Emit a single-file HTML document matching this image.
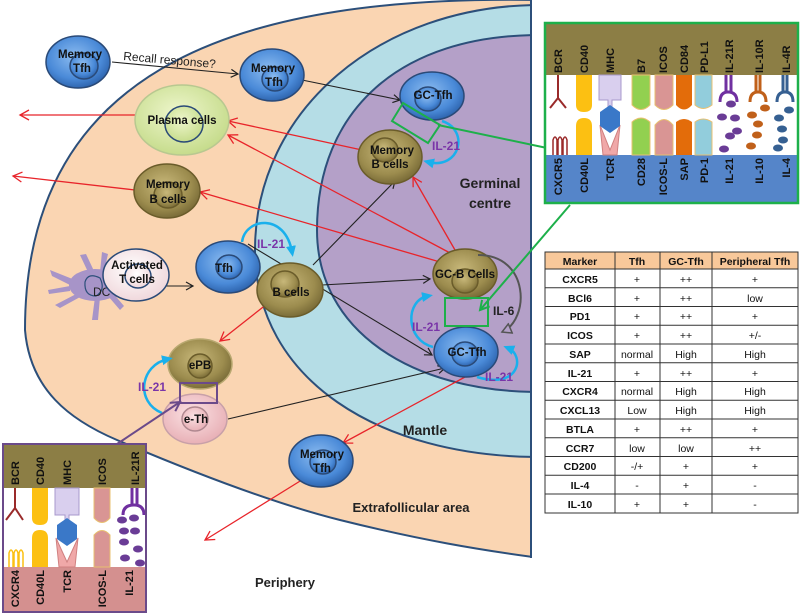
<!DOCTYPE html>
<html><head><meta charset="utf-8"><style>
html,body{margin:0;padding:0;background:#fff;}
svg{display:block;font-family:"Liberation Sans",sans-serif;}
</style></head><body>
<svg width="800" height="615" viewBox="0 0 800 615" xmlns="http://www.w3.org/2000/svg">
<defs>
<radialGradient id="gB" cx="45%" cy="40%" r="60%"><stop offset="0" stop-color="#8cbcf0"/><stop offset="0.7" stop-color="#4a8ad8"/><stop offset="1" stop-color="#2f66b0"/></radialGradient>
<radialGradient id="gO" cx="45%" cy="40%" r="60%"><stop offset="0" stop-color="#c8b87a"/><stop offset="0.7" stop-color="#9c8c4e"/><stop offset="1" stop-color="#7a6c38"/></radialGradient>
<radialGradient id="gG" cx="45%" cy="40%" r="60%"><stop offset="0" stop-color="#eef6cc"/><stop offset="1" stop-color="#c6dc8c"/></radialGradient>
<radialGradient id="gP" cx="45%" cy="40%" r="60%"><stop offset="0" stop-color="#fbe2e4"/><stop offset="1" stop-color="#e8b0b6"/></radialGradient>
<radialGradient id="gW" cx="45%" cy="40%" r="60%"><stop offset="0" stop-color="#ffffff"/><stop offset="1" stop-color="#f0d8dc"/></radialGradient>
<marker id="aK" markerWidth="10" markerHeight="10" refX="8" refY="5" orient="auto" markerUnits="userSpaceOnUse"><path d="M1,1 L8,5 L1,9" fill="none" stroke="#222" stroke-width="1.2"/></marker>
<marker id="aR" markerWidth="12" markerHeight="12" refX="10" refY="6" orient="auto" markerUnits="userSpaceOnUse"><path d="M1,1 L10,6 L1,11" fill="none" stroke="#e8242a" stroke-width="1.3"/></marker>
<marker id="aC" markerWidth="12" markerHeight="12" refX="6" refY="6" orient="auto" markerUnits="userSpaceOnUse"><path d="M0,1 L11,6 L0,11 Z" fill="#1ab0ec"/></marker>
<marker id="aCo" markerWidth="12" markerHeight="12" refX="6" refY="6" orient="auto" markerUnits="userSpaceOnUse"><path d="M1,1 L10,6 L1,11 Z" fill="#b4a0c8" stroke="#1ab0ec" stroke-width="1.5"/></marker>
<marker id="aGr" markerWidth="12" markerHeight="12" refX="10" refY="6" orient="auto" markerUnits="userSpaceOnUse"><path d="M1,1 L10,6 L1,11 Z" fill="#b4a0c8" stroke="#555" stroke-width="1.5"/></marker>
<marker id="aGn" markerWidth="12" markerHeight="12" refX="10" refY="6" orient="auto" markerUnits="userSpaceOnUse"><path d="M1,1 L10,6 L1,11" fill="none" stroke="#1db04a" stroke-width="2"/></marker>
<marker id="aPu" markerWidth="12" markerHeight="12" refX="10" refY="6" orient="auto" markerUnits="userSpaceOnUse"><path d="M1,1 L10,6 L1,11" fill="none" stroke="#6b4a8a" stroke-width="2"/></marker>
<clipPath id="cl"><rect x="0" y="0" width="531" height="615"/></clipPath>
</defs>

<!-- regions -->
<g clip-path="url(#cl)">
<path d="M540,0 C250,-5 25,60 25,330 C30,390 70,420 117,440 S260,500 340,520 S480,550 540,558 Z" fill="#fad5b2" stroke="#2c4f7a" stroke-width="2"/>
<path d="M540,5 C380,5 255,110 255,250 C255,380 380,457 540,457 Z" fill="#b5dde6" stroke="#2c4f7a" stroke-width="2"/>
<path d="M540,35 C400,35 317,110 317,230 C317,330 410,392 540,392 Z" fill="#b4a0c8" stroke="#2c4f7a" stroke-width="2"/>
</g>
<line x1="531" y1="0" x2="531" y2="558" stroke="#2c4f7a" stroke-width="2"/>

<g font-weight="bold" fill="#222">
<text x="490" y="188" font-size="14" text-anchor="middle">Germinal</text>
<text x="490" y="208" font-size="14" text-anchor="middle">centre</text>
<text x="425" y="435" font-size="14" text-anchor="middle">Mantle</text>
<text x="411" y="512" font-size="13" text-anchor="middle">Extrafollicular area</text>
<text x="285" y="587" font-size="13" text-anchor="middle">Periphery</text>
</g>

<!-- DC -->
<g fill="#a794c8" stroke="none">
<ellipse cx="95" cy="285" rx="26" ry="16"/>
<path d="M75,280 L50,270 L52,276 L72,286 Z M80,292 L55,305 L60,308 L82,296 Z M95,297 L92,320 L98,320 L100,297 Z M108,296 L120,310 L124,306 L112,292 Z M88,272 L80,255 L86,254 L94,271 Z M100,272 L102,252 L108,254 L104,272 Z M70,286 L48,290 L49,294 L70,291 Z"/>
</g>
<path d="M85,282 Q88,272 100,278 Q106,290 96,296 Q84,296 85,282 Z" fill="none" stroke="#2c4f7a" stroke-width="1.2"/>
<text x="93" y="296" font-size="12" fill="#222">DC</text>

<!-- connectors red -->
<g stroke="#e8242a" stroke-width="1.3" fill="none" marker-end="url(#aR)">
<line x1="135" y1="115" x2="20" y2="115"/>
<line x1="135" y1="190" x2="13" y2="176"/>
<line x1="362" y1="150" x2="228" y2="121"/>
<line x1="452" y1="254" x2="228" y2="135"/>
<line x1="440" y1="262" x2="200" y2="192"/>
<line x1="455" y1="250" x2="413" y2="177"/>
<line x1="272" y1="300" x2="220" y2="341"/>
<line x1="465" y1="377" x2="343" y2="443"/>
<line x1="305" y1="478" x2="205" y2="540"/>
</g>
<!-- black -->
<g stroke="#222" stroke-width="1.1" fill="none" marker-end="url(#aK)">
<line x1="112" y1="62" x2="238" y2="74"/>
<line x1="302" y1="80" x2="400" y2="100"/>
<line x1="165" y1="286" x2="193" y2="286"/>
<line x1="248" y1="244" x2="432" y2="355"/>
<line x1="313" y1="265" x2="395" y2="181"/>
<line x1="322" y1="285" x2="430" y2="279"/>
<line x1="228" y1="419" x2="445" y2="368"/>
</g>
<text x="123" y="60" font-size="12" fill="#222" transform="rotate(5 123 60)">Recall response?</text>

<!-- cells -->
<g stroke="#2a4a78" stroke-width="1.5">
<ellipse cx="78" cy="62" rx="32" ry="26" fill="url(#gB)"/><ellipse cx="84" cy="66" rx="14" ry="13" fill="url(#gB)"/>
<ellipse cx="272" cy="75" rx="32" ry="26" fill="url(#gB)"/><ellipse cx="275" cy="79" rx="13" ry="12" fill="url(#gB)"/>
<ellipse cx="182" cy="120" rx="47" ry="35" fill="url(#gG)" stroke="#b8c890"/><ellipse cx="184" cy="124" rx="19" ry="18" fill="url(#gG)"/>
<ellipse cx="167" cy="191" rx="33" ry="27" fill="url(#gO)" stroke="#6a5c2a"/><ellipse cx="168" cy="195" rx="14" ry="13" fill="url(#gO)" stroke="#6a5c2a"/>
<ellipse cx="136" cy="275" rx="33" ry="26" fill="url(#gW)"/><ellipse cx="138" cy="276" rx="13" ry="12" fill="url(#gW)"/>
<ellipse cx="228" cy="267" rx="32" ry="26" fill="url(#gB)"/><ellipse cx="229" cy="267" rx="13" ry="12" fill="url(#gB)"/>
<ellipse cx="290" cy="290" rx="33" ry="27" fill="url(#gO)" stroke="#6a5c2a"/><ellipse cx="285" cy="284" rx="14" ry="13" fill="url(#gO)" stroke="#6a5c2a"/>
<ellipse cx="432" cy="96" rx="32" ry="24" fill="url(#gB)"/><ellipse cx="428" cy="99" rx="13" ry="12" fill="url(#gB)"/>
<ellipse cx="390" cy="157" rx="32" ry="27" fill="url(#gO)" stroke="#6a5c2a"/><ellipse cx="385" cy="150" rx="13" ry="12" fill="url(#gO)" stroke="#6a5c2a"/>
<ellipse cx="465" cy="274" rx="32" ry="25" fill="url(#gO)" stroke="#6a5c2a"/><ellipse cx="465" cy="281" rx="13" ry="12" fill="url(#gO)" stroke="#6a5c2a"/>
<ellipse cx="466" cy="352" rx="32" ry="25" fill="url(#gB)"/><ellipse cx="465" cy="354" rx="13" ry="12" fill="url(#gB)"/>
<ellipse cx="200" cy="364" rx="32" ry="25" fill="url(#gO)" stroke="#b8a870"/><ellipse cx="200" cy="366" rx="12" ry="12" fill="url(#gO)" stroke="#6a5c2a"/>
<ellipse cx="195" cy="419" rx="32" ry="25" fill="url(#gP)" stroke="#c8a0a8"/><ellipse cx="195" cy="419" rx="13" ry="12" fill="url(#gP)" stroke="#b08890"/>
<ellipse cx="321" cy="461" rx="32" ry="26" fill="url(#gB)"/><ellipse cx="323" cy="462" rx="13" ry="12" fill="url(#gB)"/>
</g>
<g font-size="11.5" font-weight="bold" fill="#111" text-anchor="middle">
<text x="80" y="58">Memory</text><text x="82" y="72">Tfh</text>
<text x="273" y="72">Memory</text><text x="274" y="86">Tfh</text>
<text x="182" y="124">Plasma cells</text>
<text x="168" y="188">Memory</text><text x="168" y="203">B cells</text>
<text x="137" y="269">Activated</text><text x="137" y="283">T cells</text>
<text x="224" y="272">Tfh</text>
<text x="291" y="296">B cells</text>
<text x="433" y="99">GC-Tfh</text>
<text x="392" y="154">Memory</text><text x="390" y="168">B cells</text>
<text x="465" y="278">GC-B Cells</text>
<text x="467" y="356">GC-Tfh</text>
<text x="200" y="369">ePB</text>
<text x="196" y="423">e-Th</text>
<text x="322" y="458">Memory</text><text x="322" y="472">Tfh</text>
</g>

<!-- cyan IL-21 arcs -->
<g stroke="#1ab0ec" stroke-width="2.5" fill="none" marker-end="url(#aC)">
<path d="M242,242 C245,218 285,212 292,252"/>
<path d="M433,347 C405,340 405,300 428,296"/>
<path d="M477,377 C520,390 525,355 508,348"/>
<path d="M442,121 C470,130 460,170 428,162"/>
<path d="M162,413 C135,402 140,365 168,359"/>
</g>
<path d="M478,255 C530,255 530,320 502,332" stroke="#555" stroke-width="2" fill="none" marker-end="url(#aGr)"/>
<g font-size="12" font-weight="bold" fill="#7a35a8">
<text x="257" y="248">IL-21</text>
<text x="412" y="331">IL-21</text>
<text x="485" y="381">IL-21</text>
<text x="432" y="150">IL-21</text>
<text x="138" y="391">IL-21</text>
</g>
<text x="493" y="315" font-size="12" font-weight="bold" fill="#222">IL-6</text>

<!-- green -->
<rect x="445" y="298" width="43" height="28" fill="none" stroke="#1db04a" stroke-width="2"/>
<polygon points="403,103 392,121 428,143 440,125" fill="none" stroke="#1db04a" stroke-width="2"/>
<line x1="547" y1="148" x2="438" y2="125" stroke="#1db04a" stroke-width="2"/>
<line x1="570" y1="205" x2="480" y2="310" stroke="#1db04a" stroke-width="2" marker-end="url(#aGn)"/>
<!-- purple -->
<rect x="180" y="383" width="37" height="20" fill="none" stroke="#6b4a8a" stroke-width="2"/>
<line x1="117" y1="444" x2="180" y2="402" stroke="#6b4a8a" stroke-width="2" marker-end="url(#aPu)"/>

<!-- top-right inset -->
<g>
<rect x="545" y="23" width="253" height="52" fill="#8c7e45"/>
<rect x="545" y="75" width="253" height="80" fill="#fff"/>
<rect x="545" y="155" width="253" height="47" fill="#5585c9"/>
<path d="M558,75 V98 M558,98 L550,108 M558,98 L566,108" stroke="#9a2a2a" stroke-width="2" fill="none"/>
<path d="M553,155 V140 Q555,134 557,140 V155 M558,155 V140 Q560,134 562,140 V155 M563,155 V140 Q565,134 567,140 V155" stroke="#9a2a2a" stroke-width="1.5" fill="none"/>
<path d="M576,75 H592 V105 Q592,112 584,112 Q576,112 576,105 Z" fill="#fcc012"/>
<path d="M576,155 H592 V126 Q592,118 584,118 Q576,118 576,126 Z" fill="#fcc012"/>
<path d="M599,75 H621 V100 H612 V110 H608 V100 H599 Z" fill="#d9cfee" stroke="#a898cc"/>
<path d="M600,125 L610,150 L620,125 L617,155 H603 Z" fill="#f0a8a8" stroke="#d08080"/>
<polygon points="610,105 620,112 620,126 610,133 600,126 600,112" fill="#3a78c8"/>
<path d="M632,75 H650 V105 Q641,114 632,105 Z" fill="#92d050" stroke="#e8c070"/>
<path d="M632,155 H650 V122 Q641,114 632,122 Z" fill="#92d050" stroke="#e8c070"/>
<path d="M655,75 H673 V105 Q664,114 655,105 Z" fill="#d99594" stroke="#e8c070"/>
<path d="M655,155 H673 V125 Q664,114 655,125 Z" fill="#d99594" stroke="#e8c070"/>
<path d="M676,75 H692 V105 Q684,114 676,105 Z" fill="#e36c0a"/>
<path d="M676,155 H692 V122 Q684,116 676,122 Z" fill="#e36c0a"/>
<path d="M695,75 H712 V105 Q703,112 695,105 Z" fill="#92cddc" stroke="#e8c070"/>
<path d="M695,155 H712 V122 Q703,116 695,122 Z" fill="#92cddc" stroke="#e8c070"/>
<g stroke-width="3" fill="none">
<path d="M726,75 V92 M731,75 V92 M720,102 Q720,92 728,92 Q737,92 737,102" stroke="#7030a0"/>
<path d="M756,75 V92 M760,75 V92 M750,102 Q750,92 758,92 Q766,92 766,102" stroke="#c0601a"/>
<path d="M783,75 V92 M787,75 V92 M777,102 Q777,92 785,92 Q793,92 793,102" stroke="#366092"/>
</g>
<g fill="#6a3c96"><ellipse cx="731" cy="104" rx="5" ry="3.5"/><ellipse cx="722" cy="117" rx="5" ry="3.5"/><ellipse cx="735" cy="118" rx="5" ry="3.5"/><ellipse cx="737" cy="131" rx="5" ry="3.5"/><ellipse cx="730" cy="136" rx="5" ry="3.5"/><ellipse cx="724" cy="149" rx="5" ry="3.5"/></g>
<g fill="#c0601a"><ellipse cx="765" cy="108" rx="5" ry="3.5"/><ellipse cx="752" cy="115" rx="5" ry="3.5"/><ellipse cx="758" cy="124" rx="5" ry="3.5"/><ellipse cx="757" cy="135" rx="5" ry="3.5"/><ellipse cx="751" cy="146" rx="5" ry="3.5"/></g>
<g fill="#366092"><ellipse cx="789" cy="110" rx="5" ry="3.5"/><ellipse cx="779" cy="118" rx="5" ry="3.5"/><ellipse cx="782" cy="129" rx="5" ry="3.5"/><ellipse cx="783" cy="140" rx="5" ry="3.5"/><ellipse cx="778" cy="148" rx="5" ry="3.5"/></g>
<g font-size="11" font-weight="bold" fill="#111">
<text transform="translate(562,73) rotate(-90)">BCR</text>
<text transform="translate(588,73) rotate(-90)">CD40</text>
<text transform="translate(614,73) rotate(-90)">MHC</text>
<text transform="translate(645,73) rotate(-90)">B7</text>
<text transform="translate(667,73) rotate(-90)">ICOS</text>
<text transform="translate(688,73) rotate(-90)">CD84</text>
<text transform="translate(708,73) rotate(-90)">PD-L1</text>
<text transform="translate(733,73) rotate(-90)">IL-21R</text>
<text transform="translate(763,73) rotate(-90)">IL-10R</text>
<text transform="translate(790,73) rotate(-90)">IL-4R</text>
</g>
<g font-size="11" font-weight="bold" fill="#111" text-anchor="end">
<text transform="translate(562,158) rotate(-90)">CXCR5</text>
<text transform="translate(588,158) rotate(-90)">CD40L</text>
<text transform="translate(614,158) rotate(-90)">TCR</text>
<text transform="translate(645,158) rotate(-90)">CD28</text>
<text transform="translate(667,158) rotate(-90)">ICOS-L</text>
<text transform="translate(688,158) rotate(-90)">SAP</text>
<text transform="translate(708,158) rotate(-90)">PD-1</text>
<text transform="translate(733,158) rotate(-90)">IL-21</text>
<text transform="translate(763,158) rotate(-90)">IL-10</text>
<text transform="translate(790,158) rotate(-90)">IL-4</text>
</g>
<rect x="545" y="23" width="253" height="180" fill="none" stroke="#1db04a" stroke-width="2.5"/>
</g>

<!-- bottom-left inset -->
<g>
<rect x="3" y="444" width="143" height="44" fill="#8c7e45"/>
<rect x="3" y="488" width="143" height="79" fill="#fff"/>
<rect x="3" y="567" width="143" height="45" fill="#d4908f"/>
<path d="M15,488 V508 M15,508 L6,520 M15,508 L23,520" stroke="#9a2a2a" stroke-width="2" fill="none"/>
<path d="M9,567 V553 Q11,547 13,553 V567 M14,567 V553 Q16,547 18,553 V567 M19,567 V553 Q21,547 23,553 V567" stroke="#fcc012" stroke-width="1.5" fill="none"/>
<path d="M32,488 H48 V518 Q48,525 40,525 Q32,525 32,518 Z" fill="#fcc012"/>
<path d="M32,567 H48 V538 Q48,530 40,530 Q32,530 32,538 Z" fill="#fcc012"/>
<path d="M55,488 H79 V515 H69 V525 H65 V515 H55 Z" fill="#d9cfee" stroke="#a898cc"/>
<path d="M56,538 L67,562 L78,538 L75,567 H59 Z" fill="#f0a8a8" stroke="#d08080"/>
<polygon points="67,518 77,525 77,539 67,546 57,539 57,525" fill="#3a78c8"/>
<path d="M94,488 H110 V518 Q102,527 94,518 Z" fill="#d99594" stroke="#e8c070"/>
<path d="M94,567 H110 V535 Q102,526 94,535 Z" fill="#d99594" stroke="#e8c070"/>
<path d="M132,488 V505 M137,488 V505 M123,515 Q123,505 134,505 Q144,505 144,515" stroke="#7030a0" stroke-width="3" fill="none"/>
<g fill="#6a3c96"><ellipse cx="122" cy="520" rx="5" ry="3.5"/><ellipse cx="134" cy="518" rx="5" ry="3.5"/><ellipse cx="124" cy="531" rx="5" ry="3.5"/><ellipse cx="135" cy="531" rx="5" ry="3.5"/><ellipse cx="124" cy="542" rx="5" ry="3.5"/><ellipse cx="138" cy="549" rx="5" ry="3.5"/><ellipse cx="125" cy="558" rx="5" ry="3.5"/><ellipse cx="140" cy="563" rx="5" ry="3.5"/></g>
<g font-size="11" font-weight="bold" fill="#111">
<text transform="translate(19,485) rotate(-90)">BCR</text>
<text transform="translate(44,485) rotate(-90)">CD40</text>
<text transform="translate(71,485) rotate(-90)">MHC</text>
<text transform="translate(106,485) rotate(-90)">ICOS</text>
<text transform="translate(139,485) rotate(-90)">IL-21R</text>
</g>
<g font-size="11" font-weight="bold" fill="#111" text-anchor="end">
<text transform="translate(19,570) rotate(-90)">CXCR4</text>
<text transform="translate(44,570) rotate(-90)">CD40L</text>
<text transform="translate(71,570) rotate(-90)">TCR</text>
<text transform="translate(106,570) rotate(-90)">ICOS-L</text>
<text transform="translate(133,570) rotate(-90)">IL-21</text>
</g>
<rect x="3" y="444" width="143" height="168" fill="none" stroke="#6b4a8a" stroke-width="2"/>
</g>

<!-- table -->
<g font-size="10.5" fill="#111" text-anchor="middle">
<rect x="545" y="252" width="253" height="17" fill="#f8c89a"/>
<g stroke="#333" stroke-width="1" fill="none">
<rect x="545" y="252" width="253" height="261"/>
<line x1="615" y1="252" x2="615" y2="513"/><line x1="660" y1="252" x2="660" y2="513"/><line x1="712" y1="252" x2="712" y2="513"/>
<line x1="545" y1="269" x2="798" y2="269"/><line x1="545" y1="287.8" x2="798" y2="287.8"/><line x1="545" y1="306.5" x2="798" y2="306.5"/><line x1="545" y1="325.3" x2="798" y2="325.3"/><line x1="545" y1="344" x2="798" y2="344"/><line x1="545" y1="362.8" x2="798" y2="362.8"/><line x1="545" y1="381.5" x2="798" y2="381.5"/><line x1="545" y1="400.3" x2="798" y2="400.3"/><line x1="545" y1="419" x2="798" y2="419"/><line x1="545" y1="437.8" x2="798" y2="437.8"/><line x1="545" y1="456.5" x2="798" y2="456.5"/><line x1="545" y1="475.3" x2="798" y2="475.3"/><line x1="545" y1="494" x2="798" y2="494"/>
</g>
<g font-weight="bold"><text x="580" y="265">Marker</text><text x="637" y="265">Tfh</text><text x="686" y="265">GC-Tfh</text><text x="755" y="265">Peripheral Tfh</text></g>
<g font-weight="bold">
<text x="580" y="283">CXCR5</text><text x="580" y="302">BCl6</text><text x="580" y="320">PD1</text><text x="580" y="339">ICOS</text><text x="580" y="358">SAP</text><text x="580" y="377">IL-21</text><text x="580" y="395">CXCR4</text><text x="580" y="414">CXCL13</text><text x="580" y="433">BTLA</text><text x="580" y="452">CCR7</text><text x="580" y="470">CD200</text><text x="580" y="489">IL-4</text><text x="580" y="508">IL-10</text>
</g>
<text x="637" y="283">+</text><text x="686" y="283">++</text><text x="755" y="283">+</text>
<text x="637" y="302">+</text><text x="686" y="302">++</text><text x="755" y="302">low</text>
<text x="637" y="320">+</text><text x="686" y="320">++</text><text x="755" y="320">+</text>
<text x="637" y="339">+</text><text x="686" y="339">++</text><text x="755" y="339">+/-</text>
<text x="637" y="358">normal</text><text x="686" y="358">High</text><text x="755" y="358">High</text>
<text x="637" y="377">+</text><text x="686" y="377">++</text><text x="755" y="377">+</text>
<text x="637" y="395">normal</text><text x="686" y="395">High</text><text x="755" y="395">High</text>
<text x="637" y="414">Low</text><text x="686" y="414">High</text><text x="755" y="414">High</text>
<text x="637" y="433">+</text><text x="686" y="433">++</text><text x="755" y="433">+</text>
<text x="637" y="452">low</text><text x="686" y="452">low</text><text x="755" y="452">++</text>
<text x="637" y="470">-/+</text><text x="686" y="470">+</text><text x="755" y="470">+</text>
<text x="637" y="489">-</text><text x="686" y="489">+</text><text x="755" y="489">-</text>
<text x="637" y="508">+</text><text x="686" y="508">+</text><text x="755" y="508">-</text>
</g>
</svg>
</body></html>
